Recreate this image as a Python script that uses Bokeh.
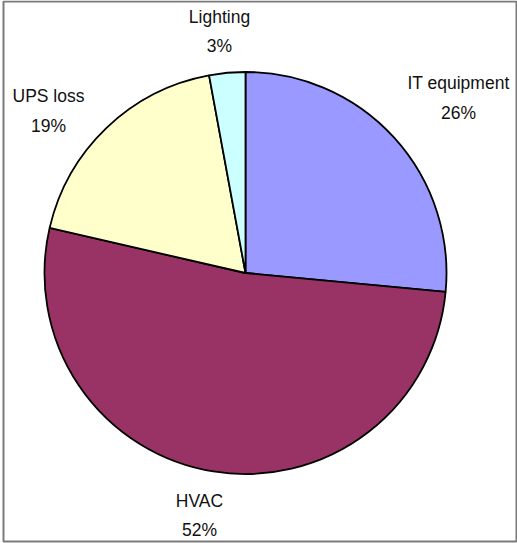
from math import pi
from bokeh.plotting import figure
from bokeh.models import ColumnDataSource, Range1d
from bokeh.core.properties import value
from bokeh.embed import file_html
from bokeh.resources import INLINE

categories = ["IT equipment", "HVAC", "UPS loss", "Lighting"]
values = [26.5, 52.1, 18.5, 2.9]
pct_labels = ["26%", "52%", "19%", "3%"]
colors = ["#9999FF", "#993366", "#FFFFCC", "#CCFFFF"]

W, H = 517, 543
# screen -> data helpers (figure top-left sits at page (0, 0))
def sx(x):
    return x
def sy(y):
    return H - y

total = sum(values)
starts, ends = [], []
acc = 0.0
for v in values:
    a0 = pi / 2 - 2 * pi * acc / total
    acc += v
    a1 = pi / 2 - 2 * pi * acc / total
    starts.append(a0)
    ends.append(a1)

src = ColumnDataSource(dict(cat=categories, start=starts, end=ends, color=colors))

p = figure(width=W, height=H, output_backend="svg", toolbar_location=None,
           x_range=Range1d(0, W), y_range=Range1d(0, H), min_border=0,
           background_fill_color="white", border_fill_color="white")
p.axis.visible = False
p.grid.visible = False
p.outline_line_color = None

# chart frame
p.quad(left=sx(3), right=sx(516), top=sy(1), bottom=sy(541),
       fill_color=None, line_color="#7a7a7a", line_width=2)

cx, cy, r = sx(245), sy(272.5), 201
p.wedge(x=cx, y=cy, radius=r, start_angle="start", end_angle="end",
        direction="clock", fill_color="color", line_color="black",
        line_width=1.8, source=src)

# label positions (centre x, baseline of name, baseline of percentage) in page pixels
lab_x = [458, 199, 48, 219]
lab_y1 = [82, 500, 95, 16]
lab_y2 = [112, 529, 125, 45]

names_src = ColumnDataSource(dict(x=[sx(v) for v in lab_x], y=[sy(v) for v in lab_y1], t=categories))
pct_src = ColumnDataSource(dict(x=[sx(v) for v in lab_x], y=[sy(v) for v in lab_y2], t=pct_labels))
for s in (names_src, pct_src):
    p.text(x="x", y="y", text="t", source=s, text_align="center",
           text_baseline="alphabetic", text_font=value("Liberation Sans"),
           text_font_size="17.5px", text_color="#111111")

open("out.html", "w").write(file_html(p, INLINE))
